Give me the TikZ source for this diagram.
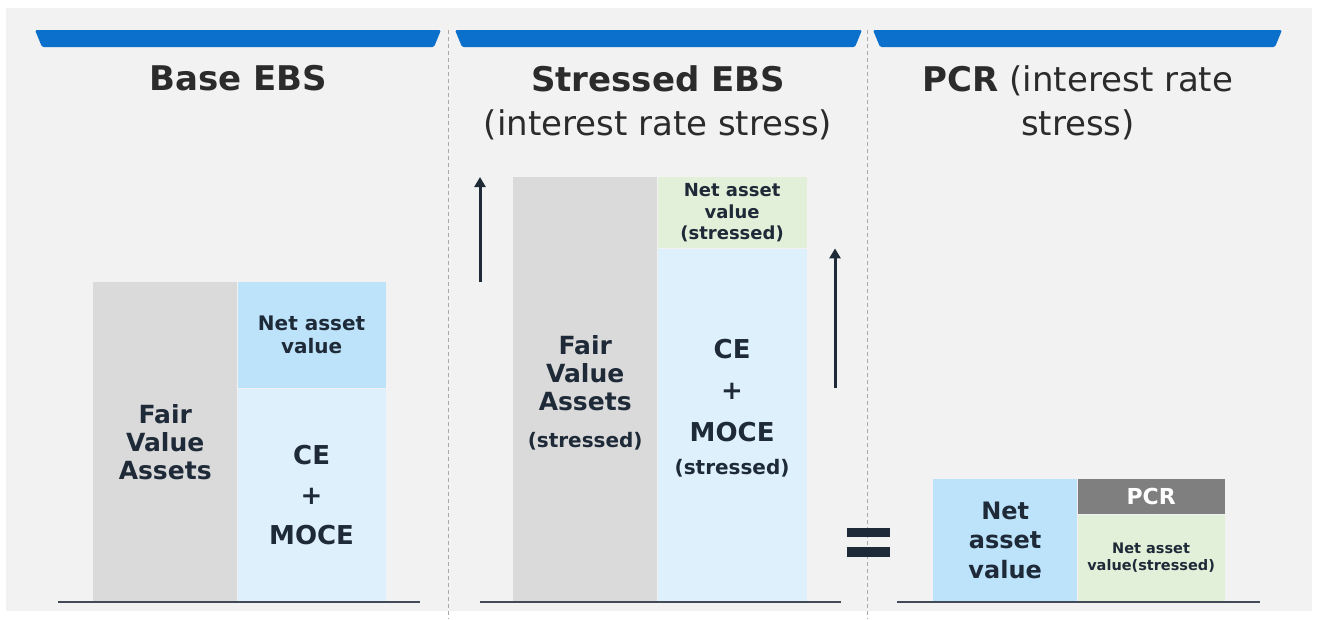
\documentclass[tikz,border=0pt]{standalone}
\usepackage{fontspec}
\setmainfont{DejaVu Sans}
\usetikzlibrary{arrows.meta, positioning, calc}
\definecolor{bggray}{HTML}{F2F2F2}
\definecolor{ebsblue}{HTML}{0A70CC}
\definecolor{assetgray}{HTML}{DADADA}
\definecolor{navblue}{HTML}{BDE3FB}
\definecolor{ceblue}{HTML}{DDF0FC}
\definecolor{navgreen}{HTML}{E2F0D9}
\definecolor{pcrgray}{HTML}{7F7F7F}
\definecolor{ink}{HTML}{1F2A38}
\definecolor{titleink}{HTML}{2B2B2B}
\definecolor{divgray}{HTML}{AAAAAA}

\begin{document}
\begin{tikzpicture}[x=1pt, y=-1pt,
    box/.style={anchor=north west, inner sep=0pt, align=center, text=ink},
    boxtext/.style={inner sep=0pt, align=center, text=ink},
    heading/.style={anchor=north, inner sep=0pt, align=center, text=titleink, font=\fontsize{34pt}{44pt}\selectfont},
    ground/.style={line width=2pt, draw=ink!85},
    divider/.style={line width=1pt, draw=divgray, dash pattern=on 4pt off 3pt},
    rise/.style={-{Triangle[length=10pt, width=11pt]}, line width=3pt, draw=ink}]
        \useasboundingbox (0,0) rectangle (1319,619);
        \fill[white] (0,0) rectangle (1319,619);
        \fill[bggray] (6,8) rectangle (1312,611);
        % header bars and dividers
        \foreach \xa/\xb in {35/441, 455/862, 873/1282}
            \fill[ebsblue, rounded corners=1.5pt] (\xa,30) -- (\xb,30) -- (\xb-7,47) -- (\xa+7,47) -- cycle;
        \foreach \x in {448, 867}
            \draw[divider] (\x,30) -- (\x,619);
        % titles
        \node[heading] (tBase) at (238,65) {\bfseries Base EBS};
        \node[heading] (tStress) at (658,65) {\bfseries Stressed EBS\\(interest rate stress)};
        \node[heading] (tPcr) at (1078,65) {{\bfseries PCR} (interest rate\\stress)};
        % Base EBS
        \node[box, fill=assetgray, minimum width=144pt, minimum height=319pt,
              font=\bfseries\fontsize{25pt}{28pt}\selectfont] (fvB) at (93,282) {Fair\\Value\\Assets};
        \node[box, fill=navblue, minimum width=148pt, minimum height=106pt,
              font=\bfseries\fontsize{20pt}{23pt}\selectfont] (navB) at (fvB.north east) {Net asset\\value};
        \node[box, fill=ceblue, minimum width=148pt, minimum height=213pt,
              font=\bfseries\fontsize{26pt}{40pt}\selectfont] (ceB) at (navB.south west) {CE\\+\\MOCE};
        \draw[ground] (58,602) -- (420,602);
        % Stressed EBS
        \node[box, fill=assetgray, minimum width=144pt, minimum height=424pt] (fvS) at (513,177) {};
        \node[boxtext, font=\bfseries\fontsize{25pt}{28pt}\selectfont] (fvSt) at ($(fvS.center)+(0,4)$)
            {Fair\\Value\\Assets\\[9pt]{\fontsize{20pt}{24pt}\selectfont (stressed)}};
        \node[box, fill=navgreen, minimum width=149pt, minimum height=71pt,
              font=\bfseries\fontsize{18pt}{21.5pt}\selectfont] (navS) at (fvS.north east) {Net asset\\value\\(stressed)};
        \node[box, fill=ceblue, minimum width=149pt, minimum height=353pt] (ceS) at (navS.south west) {};
        \node[boxtext, font=\bfseries\fontsize{26pt}{41.5pt}\selectfont] (ceSt) at ($(ceS.center)+(0,-17)$)
            {CE\\+\\MOCE\\[-8pt]{\fontsize{20pt}{24pt}\selectfont (stressed)}};
        \draw[ground] (480,602) -- (841,602);
        \coordinate (xA) at (480,0);
        \coordinate (xB) at (835,0);
        \draw[rise] (fvB.north -| xA) -- (fvS.north -| xA);
        \draw[rise] (ceB.north -| xB) -- (ceS.north -| xB);
        % equals sign
        \fill[ink] (847,528) rectangle (890,537);
        \fill[ink] (847,547) rectangle (890,557);
        % PCR
        \node[box, fill=navblue, minimum width=144pt, minimum height=122pt,
              font=\bfseries\fontsize{24pt}{29.5pt}\selectfont] (navP) at (933,479) {Net\\asset\\value};
        \node[box, fill=pcrgray, minimum width=147pt, minimum height=35pt, text=white,
              font=\bfseries\fontsize{22pt}{26pt}\selectfont] (pcr) at (navP.north east) {PCR};
        \node[box, fill=navgreen, minimum width=147pt, minimum height=87pt,
              font=\bfseries\fontsize{14.5pt}{17pt}\selectfont] (navPS) at (pcr.south west) {Net asset\\value(stressed)};
        \draw[ground] (897,602) -- (1260,602);
\end{tikzpicture}
\end{document}
